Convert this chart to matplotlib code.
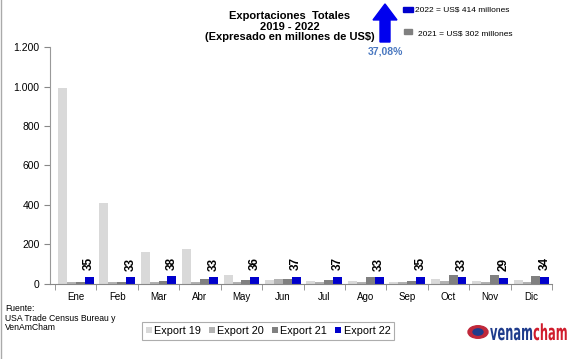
import numpy as np
import matplotlib
matplotlib.use("Agg")
import matplotlib.pyplot as plt
from matplotlib.patches import FancyArrow, Rectangle, Circle, PathPatch
from matplotlib.textpath import TextPath
from matplotlib.font_manager import FontProperties
from matplotlib.transforms import Affine2D
from matplotlib.ticker import FuncFormatter, FixedLocator

plt.rcParams['font.family'] = ['Liberation Sans', 'DejaVu Sans']

meses = ["Ene", "Feb", "Mar", "Abr", "May", "Jun", "Jul", "Ago", "Sep", "Oct", "Nov", "Dic"]
export19 = [990, 410, 160, 175, 45, 20, 15, 15, 10, 25, 15, 20]
export20 = [10, 8, 10, 8, 10, 25, 10, 10, 10, 15, 10, 10]
export21 = [10, 10, 15, 25, 20, 25, 20, 33, 15, 45, 45, 38]
export22 = [35, 33, 38, 33, 36, 37, 37, 33, 35, 33, 29, 34]
series = ["Export 19", "Export 20", "Export 21", "Export 22"]
colores = ["#d9d9d9", "#b2b2b2", "#808080", "#0000cc"]

W, H = 572, 359
fig = plt.figure(figsize=(5.72, 3.59), dpi=100)
ax = fig.add_axes([0.0874, 0.209, 0.878, 0.66])

x = np.arange(len(meses))
w = 0.215
for i, (vals, nombre, c) in enumerate(zip([export19, export20, export21, export22], series, colores)):
    ax.bar(x + (i - 1.5) * w, vals, w, color=c, label=nombre, edgecolor="none")

for xi, v in zip(x, export22):
    ax.annotate(str(v), (xi + 1.5 * w, v), xytext=(0, 5), textcoords="offset points",
                rotation=90, ha="center", va="bottom", fontsize=8.5, fontweight="bold")

ax.set_ylim(0, 1200)
ax.set_xlim(-0.62, 11.5)
ax.set_yticks(range(0, 1201, 200))
ax.yaxis.set_major_formatter(FuncFormatter(lambda v, p: f"{int(v):,}".replace(",", ".")))
ax.set_xticks(x)
ax.set_xticklabels(meses)
ax.xaxis.set_minor_locator(FixedLocator(np.arange(-0.5, 12, 1)))
ax.tick_params(axis="x", which="major", length=0, labelsize=7, pad=6)
ax.tick_params(axis="x", which="minor", length=4, color="#888888")
ax.tick_params(axis="y", length=4, color="#888888", labelsize=7.5)
for s in ["top", "right"]:
    ax.spines[s].set_visible(False)
ax.spines["left"].set_color("#999999")
ax.spines["bottom"].set_color("#888888")

fig.text(0.507, 0.97, "Exportaciones  Totales\n2019 - 2022\n(Expresado en millones de US$)",
         ha="center", va="top", fontsize=8, fontweight="bold", linespacing=1.1)

# flecha de crecimiento
fig.patches.append(FancyArrow(385 / W, 1 - 42 / H, 0, 40 / H - 0.05, width=10 / W,
                              head_width=24 / W, head_length=16 / H, length_includes_head=False,
                              color="#0000ee", transform=fig.transFigure, figure=fig))
fig.text(385 / W, 1 - 52 / H, "37,08%", ha="center", va="center", fontsize=7.5,
         color="#4a78c0", fontweight="bold")

fig.patches.append(Rectangle((403 / W, 1 - 12 / H), 10 / W, 5 / H, color="#0000cc",
                             transform=fig.transFigure, figure=fig))
fig.text(415 / W, 1 - 10 / H, "2022 = US$ 414 millones", fontsize=6, va="center")
fig.patches.append(Rectangle((404 / W, 1 - 34 / H), 8 / W, 5 / H, color="#808080",
                             transform=fig.transFigure, figure=fig))
fig.text(418 / W, 1 - 34 / H, "2021 = US$ 302 millones", fontsize=6, va="center")

fig.text(5 / W, 1 - 304 / H, "Fuente:\nUSA Trade Census Bureau y\nVenAmCham", fontsize=6.2,
         va="top", ha="left", linespacing=1.1)

leg = fig.legend(loc="center", bbox_to_anchor=(268 / W, 1 - 331 / H), ncol=4, fontsize=7.8,
                 handlelength=0.55, handleheight=0.55, handletextpad=0.25, columnspacing=0.7,
                 frameon=True, fancybox=False, edgecolor="#999999", borderpad=0.35)
leg.get_frame().set_linewidth(0.8)

# logo (texto comprimido en horizontal)
fig.patches.append(Circle((478 / W, 1 - 332 / H), 10 / W, color="#c0283a",
                          transform=fig.transFigure, figure=fig))
fig.patches.append(Circle((478 / W, 1 - 332 / H), 5 / W, color="#1f3c8c",
                          transform=fig.transFigure, figure=fig))
fp = FontProperties(family="DejaVu Sans", weight="bold")
p1 = TextPath((0, 0), "venam", size=22, prop=fp)
p2 = TextPath((0, 0), "cham", size=22, prop=fp)
sx = 0.52
w1 = p1.get_extents().x1 * sx
base_y = H - 340
fig.patches.append(PathPatch(p1, color="#1f3c8c", lw=0,
                             transform=Affine2D().scale(sx, 1.0).translate(490, base_y)))
fig.patches.append(PathPatch(p2, color="#d01c2c", lw=0,
                             transform=Affine2D().scale(sx, 1.0).translate(490 + w1 + 1, base_y)))

fig.lines.append(plt.Line2D([0.002, 0.002], [0, 1], color="#aaaaaa", lw=1, transform=fig.transFigure))

fig.savefig("out.png", dpi=100)
